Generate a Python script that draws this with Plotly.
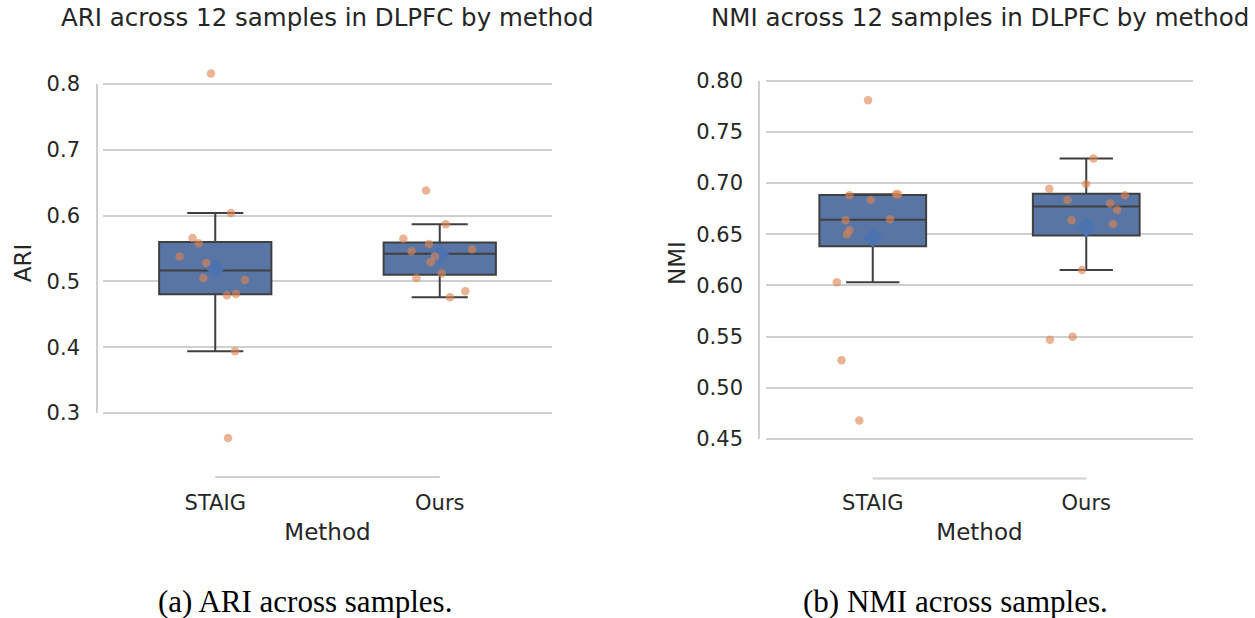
import numpy as np
import plotly.graph_objects as go

# ---------------- data ----------------
methods = ["STAIG", "Ours"]

ari_staig = [0.816, 0.604, 0.566, 0.558, 0.538, 0.528, 0.505, 0.502, 0.479, 0.481, 0.394, 0.262]
ari_ours = [0.638, 0.587, 0.565, 0.557, 0.546, 0.549, 0.538, 0.529, 0.512, 0.505, 0.485, 0.476]
nmi_staig = [0.781, 0.688, 0.6835, 0.689, 0.689, 0.6636, 0.6646, 0.654, 0.650, 0.603, 0.527, 0.468]
nmi_ours = [0.724, 0.699, 0.6945, 0.688, 0.6835, 0.680, 0.674, 0.6636, 0.660, 0.615, 0.547, 0.550]

# strip-plot jitter: horizontal offset of each point from its category centre (category units)
ari_staig_jitter = [-0.019, 0.070, -0.101, -0.074, -0.159, -0.040, -0.053, 0.132, 0.052, 0.092, 0.088, 0.057]
ari_ours_jitter = [-0.061, 0.027, -0.162, -0.048, -0.126, 0.144, -0.021, -0.041, 0.009, -0.104, 0.114, 0.045]
nmi_staig_jitter = [-0.022, -0.109, -0.010, 0.109, 0.119, -0.127, 0.081, -0.109, -0.121, -0.168, -0.146, -0.063]
nmi_ours_jitter = [0.034, -0.001, -0.173, 0.181, -0.088, 0.112, 0.145, -0.069, 0.126, -0.020, -0.170, -0.064]

ari_ticks = [0.3, 0.4, 0.5, 0.6, 0.7, 0.8]
ari_ticktext = ["0.3", "0.4", "0.5", "0.6", "0.7", "0.8"]
nmi_ticks = [0.45, 0.50, 0.55, 0.60, 0.65, 0.70, 0.75, 0.80]
nmi_ticktext = ["0.45", "0.50", "0.55", "0.60", "0.65", "0.70", "0.75", "0.80"]

titles = ["ARI across 12 samples in DLPFC by method", "NMI across 12 samples in DLPFC by method"]
captions = ["(a) ARI across samples.", "(b) NMI across samples."]
ylabels = ["ARI", "NMI"]
xlabel = "Method"

# ---------------- styles ----------------
W, H = 1255, 618
BOX_FILL = "#5875A4"
BOX_EDGE = "#3F3F3F"
POINT = "#DD8452"
MEAN = "#4C72B0"
GRID = "#CFCFCF"
TEXT = "#262626"
FONT = "DejaVu Sans"


def box_stats(vals):
    """matplotlib/seaborn-style box statistics (numpy linear percentiles, 1.5 IQR whiskers)."""
    a = np.asarray(vals, dtype=float)
    q1, med, q3 = np.percentile(a, [25, 50, 75])
    iqr = q3 - q1
    lo = a[a >= q1 - 1.5 * iqr].min()
    hi = a[a <= q3 + 1.5 * iqr].max()
    return float(q1), float(med), float(q3), float(lo), float(hi), float(a.mean())


fig = go.Figure()

panels = [
    dict(xa="x", ya="y", series=[(ari_staig, ari_staig_jitter), (ari_ours, ari_ours_jitter)]),
    dict(xa="x2", ya="y2", series=[(nmi_staig, nmi_staig_jitter), (nmi_ours, nmi_ours_jitter)]),
]

for p in panels:
    stats = [box_stats(v) for v, _ in p["series"]]
    for i, s in enumerate(stats):
        q1, med, q3, lo, hi, mean = s
        fig.add_trace(go.Box(
            x=[i], q1=[q1], median=[med], q3=[q3], lowerfence=[lo], upperfence=[hi],
            xaxis=p["xa"], yaxis=p["ya"],
            width=0.5, whiskerwidth=0.5, boxpoints=False,
            fillcolor=BOX_FILL, line=dict(color=BOX_EDGE, width=2),
            name=methods[i], showlegend=False, hoverinfo="y",
        ))
    for i, s in enumerate(stats):
        fig.add_trace(go.Scatter(
            x=[i], y=[s[5]], xaxis=p["xa"], yaxis=p["ya"], mode="markers",
            marker=dict(symbol="diamond", size=15, color=MEAN, line=dict(width=0)),
            showlegend=False, hoverinfo="y",
        ))
    for i, (vals, jit) in enumerate(p["series"]):
        fig.add_trace(go.Scatter(
            x=[i + j for j in jit], y=vals, xaxis=p["xa"], yaxis=p["ya"], mode="markers",
            marker=dict(size=8.5, color=POINT, opacity=0.62, line=dict(width=0)),
            showlegend=False, hoverinfo="y",
        ))


def px_x(v):
    return v / W


def px_y(v):
    return 1 - v / H


tickfont = dict(family=FONT, size=21, color=TEXT)
labfont = dict(family=FONT, size=23, color=TEXT)

common_x = dict(range=[-0.5, 1.5], tickvals=[0, 1], ticktext=methods, showgrid=False,
                zeroline=False, showline=False, ticks="", tickfont=tickfont,
                ticklabelstandoff=18, title=dict(text=xlabel, font=labfont, standoff=9))
common_y = dict(showgrid=True, gridcolor=GRID, gridwidth=1.6, zeroline=False, showline=False,
                ticks="", tickfont=tickfont, ticklabelstandoff=22)

fig.update_layout(
    width=W, height=H, margin=dict(l=0, r=0, t=0, b=0),
    paper_bgcolor="white", plot_bgcolor="white",
    font=dict(family=FONT, color=TEXT),
    xaxis=dict(domain=[px_x(103), px_x(552)], anchor="y", **common_x),
    yaxis=dict(domain=[px_y(470), px_y(56)], anchor="x", range=[0.21337, 0.84255],
               tickvals=ari_ticks, ticktext=ari_ticktext,
               title=dict(text=ylabels[0], font=labfont, standoff=8), **common_y),
    xaxis2=dict(domain=[px_x(766), px_x(1193)], anchor="y2", **common_x),
    yaxis2=dict(domain=[px_y(470), px_y(56)], anchor="x2", range=[0.41972, 0.82413],
                tickvals=nmi_ticks, ticktext=nmi_ticktext,
                title=dict(text=ylabels[1], font=labfont, standoff=4), **common_y),
)

# trimmed, offset spines (seaborn despine(trim=True) look)
spine = dict(color=GRID, width=2)
fig.add_shape(type="line", xref="paper", yref="y", x0=px_x(97), x1=px_x(97),
              y0=ari_ticks[0], y1=ari_ticks[-1], line=spine, layer="below")
fig.add_shape(type="line", xref="x", yref="paper", x0=0, x1=1,
              y0=px_y(477), y1=px_y(477), line=spine, layer="below")
fig.add_shape(type="line", xref="paper", yref="y2", x0=px_x(759), x1=px_x(759),
              y0=nmi_ticks[0], y1=nmi_ticks[-1], line=spine, layer="below")
fig.add_shape(type="line", xref="x2", yref="paper", x0=0, x1=1,
              y0=px_y(478.5), y1=px_y(478.5), line=spine, layer="below")

# panel titles
for t, cx in zip(titles, [327.5, 979.5]):
    fig.add_annotation(text=t, xref="paper", yref="paper", x=px_x(cx), y=px_y(18),
                       xanchor="center", yanchor="middle", showarrow=False,
                       font=dict(family=FONT, size=24.5, color=TEXT))

# captions
for c, cx in zip(captions, [305, 955]):
    fig.add_annotation(text=c, xref="paper", yref="paper", x=px_x(cx), y=px_y(601),
                       xanchor="center", yanchor="middle", showarrow=False,
                       font=dict(family="Liberation Serif", size=31, color="black"))

fig.write_html("out.html", config={"displayModeBar": False},
               post_script="document.body.style.margin='0';document.body.style.overflow='hidden';")
